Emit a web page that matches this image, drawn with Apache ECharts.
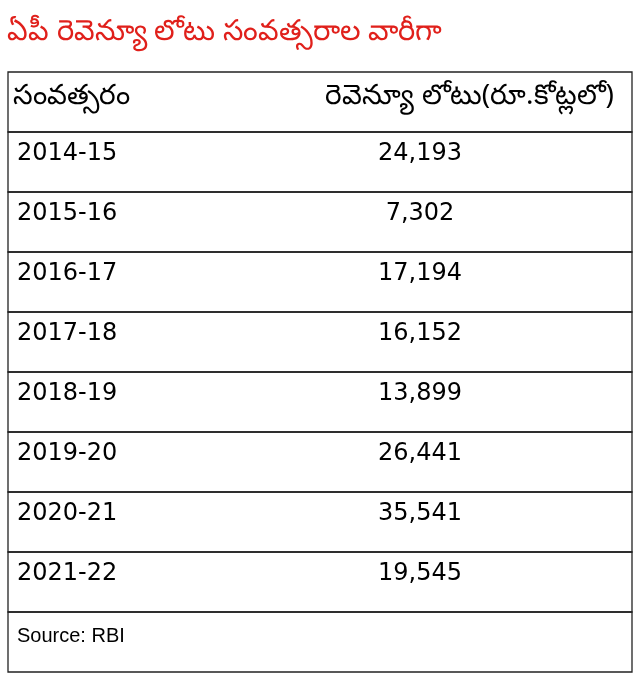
<!DOCTYPE html>
<html><head><meta charset="utf-8">
<script src="https://cdn.jsdelivr.net/npm/echarts@6/dist/echarts.min.js"></script>
<style>html,body{margin:0;padding:0;background:#fff}#c{width:640px;height:682px}</style>
</head><body><div id="c"></div>
<script>
const title = 'ఏపీ రెవెన్యూ లోటు సంవత్సరాల వారీగా';
const headers = ['సంవత్సరం', 'రెవెన్యూ లోటు(రూ.కోట్లలో)'];
const years = ['2014-15','2015-16','2016-17','2017-18','2018-19','2019-20','2020-21','2021-22'];
const deficits = ['24,193','7,302','17,194','16,152','13,899','26,441','35,541','19,545'];
const source = 'Source: RBI';

const rows = [[headers[0], headers[1], 'h']]
  .concat(years.map((y,i)=>[y, deficits[i], 'd']))
  .concat([[source, '', 's']]);
const cats = rows.map((r,i)=>String(i));

const chart = echarts.init(document.getElementById('c'));
chart.setOption({
  animation:false,
  title:{text:title,left:2,top:12,textStyle:{color:'#e0201b',fontSize:29,fontWeight:'normal',fontFamily:'Noto Sans, DejaVu Sans'}},
  grid:{left:8,right:8,top:72,bottom:10},
  xAxis:{type:'value',min:0,max:624,show:false},
  yAxis:{type:'category',data:cats,inverse:true,show:false},
  series:[{
    type:'custom',
    data:rows.map((r,i)=>[i, r[0], r[1], r[2]]),
    encode:{y:0},
    renderItem:function(params, api){
      const i = api.value(0);
      const r = rows[i];
      const c = api.coord([0, i]);
      const size = api.size([0, 1]);
      const h = size[1];
      const x0 = params.coordSys.x, w = params.coordSys.width;
      const top = c[1] - h/2;
      const children = [
        {type:'rect',shape:{x:x0,y:top,width:w,height:h},style:{fill:'none',stroke:'#222',lineWidth:1.3}}
      ];
      const isS = r[2]==='s', hdr = r[2]==='h';
      children.push({type:'text',style:{text:r[0],x:x0+(hdr?5:9),y:top+(isS?24:(hdr?24:22)),
        verticalAlign:'middle',fill:'#000',font:(isS?'20px "Liberation Sans"':(hdr?'28px "Noto Sans", "DejaVu Sans"':'24px "DejaVu Sans", "Noto Sans"'))}});
      if(r[1]){
        children.push({type:'text',style:{text:r[1],x:hdr?x0+606:x0+412,y:top+(hdr?24:22),
          align:hdr?'right':'center',verticalAlign:'middle',fill:'#000',font:hdr?'28px "Noto Sans", "DejaVu Sans"':'24px "DejaVu Sans", "Noto Sans"'}});
      }
      return {type:'group',children};
    }
  }]
});
</script></body></html>
